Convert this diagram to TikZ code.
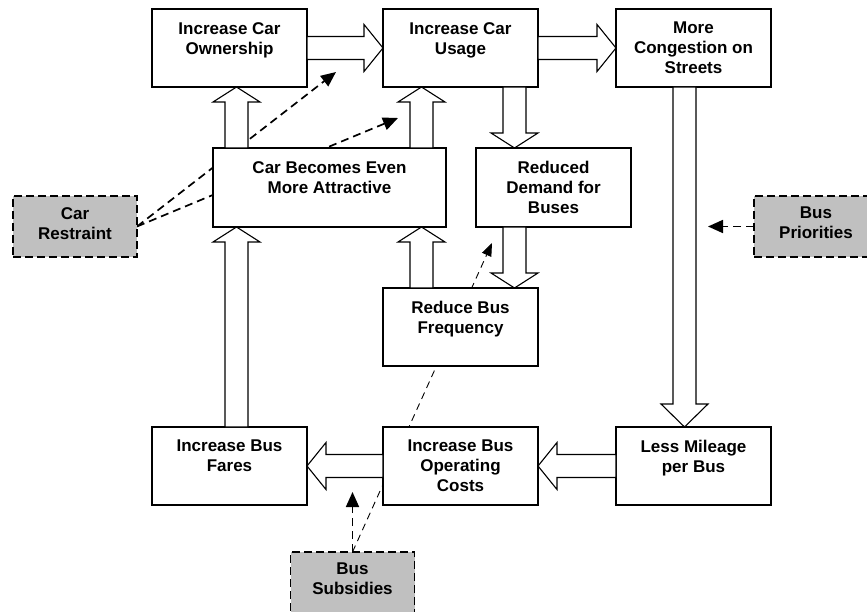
\documentclass[tikz,border=0pt]{standalone}
\usepackage{fontspec}
\setmainfont{Liberation Sans}
\usetikzlibrary{arrows.meta,positioning,calc,backgrounds}
\definecolor{policy}{HTML}{C0C0C0}

% hollow block arrow from #2 to #3, head length #1
\newcommand{\fatarrow}[3][19pt]{%
  \coordinate (fa-h) at ($(#3)!#1!(#2)$);
  \draw[fat] ($(#2)!11.5pt!90:(#3)$) -- ($(fa-h)!11.5pt!90:(#3)$)
    -- ($(fa-h)!23.5pt!90:(#3)$) -- (#3)
    -- ($(fa-h)!23.5pt!-90:(#3)$) -- ($(fa-h)!11.5pt!-90:(#3)$)
    -- ($(#2)!11.5pt!-90:(#3)$) -- cycle;}

\begin{document}
\begin{tikzpicture}[x=1pt,y=-1pt,
  box/.style={draw=black,line width=1.4pt,fill=white,minimum width=155pt,minimum height=78pt,inner sep=0pt,outer sep=0pt},
  pol/.style={box,fill=policy,line width=1.6pt,dash pattern=on 8pt off 4pt,minimum width=124pt,minimum height=61pt},
  txt/.style={anchor=north,align=center,inner sep=0pt,yshift=-13pt,font=\bfseries\fontsize{17}{20}\selectfont},
  ptxt/.style={txt,yshift=2pt},
  fat/.style={draw=black,fill=white,line width=1.1pt,line join=miter},
  infl/.style={line width=1.7pt,dash pattern=on 8pt off 5pt,-{Triangle[length=15pt,width=13pt]}},
  link/.style={line width=0.9pt,dash pattern=on 7pt off 5pt,-{Triangle[length=13pt,width=10pt]}}]
\useasboundingbox (0,0) rectangle (867,612);
% top row
\node[box,label={[txt]north:Increase Car\\Ownership}] (own) at (229.5,48) {};
\node[box,right=76pt of own,label={[txt]north:Increase Car\\Usage}] (usage) {};
\node[box,right=78pt of usage,label={[txt]north:More\\Congestion on\\Streets}] (cong) {};
% middle
\node[box,minimum width=233pt,minimum height=79pt,label={[txt]north:Car Becomes Even\\More Attractive}] (attr) at (329.5,187.5) {};
\node[box,minimum height=79pt,label={[txt]north:Reduced\\Demand for\\Buses}] (reduced) at (553.5,187.5) {};
% bottom row
\node[box,below=340pt of own,label={[txt]north:Increase Bus\\Fares}] (fares) {};
\node[box,right=76pt of fares,label={[txt]north:Increase Bus\\Operating\\Costs}] (oper) {};
\node[box,right=78pt of oper,label={[txt]north:Less Mileage\\per Bus}] (mileage) {};
\node[box,above=61pt of oper,label={[txt]north:Reduce Bus\\Frequency}] (freq) {};
% policy measures
\node[pol,label={[ptxt]north:Car\\Restraint}] (restraint) at (75,226.5) {};
\node[pol,label={[ptxt]north:Bus\\Priorities}] (prio) at (816,226.5) {};
\node[pol,label={[ptxt]north:Bus\\Subsidies}] (subs) at (352.5,582.5) {};
% columns of the vertical arrows
\coordinate (cA) at (236.5,0);
\coordinate (cB) at (421.5,0);
\coordinate (cC) at (514.5,0);
\coordinate (cD) at (684.5,0);
\fatarrow{own.east}{usage.west}
\fatarrow{usage.east}{cong.west}
\fatarrow[15pt]{cA |- attr.north}{cA |- own.south}
\fatarrow[15pt]{cA |- fares.north}{cA |- attr.south}
\fatarrow[15pt]{cB |- attr.north}{cB |- usage.south}
\fatarrow[15pt]{cB |- freq.north}{cB |- attr.south}
\fatarrow[15pt]{cC |- usage.south}{cC |- reduced.north}
\fatarrow[15pt]{cC |- reduced.south}{cC |- freq.north}
\fatarrow[23pt]{cD |- cong.south}{cD |- mileage.north}
\fatarrow{mileage.west}{oper.east}
\fatarrow{oper.west}{fares.east}
% influence of the measures, behind the boxes
\coordinate (t1) at (336,72);
\coordinate (t2) at (398,118);
\coordinate (t3) at (492,243);
\coordinate (t4) at (708,226.5);
\coordinate (t5) at (352.5,492);
\begin{pgfonlayer}{background}
\draw[infl] (restraint.east) -- (t1);
\draw[infl] (restraint.east) -- (t2);
\draw[infl] (prio.west) -- (t4);
\draw[infl] (subs.north) -- (t5);
\draw[link] (subs.north) -- (t3);
\end{pgfonlayer}
\end{tikzpicture}
\end{document}
